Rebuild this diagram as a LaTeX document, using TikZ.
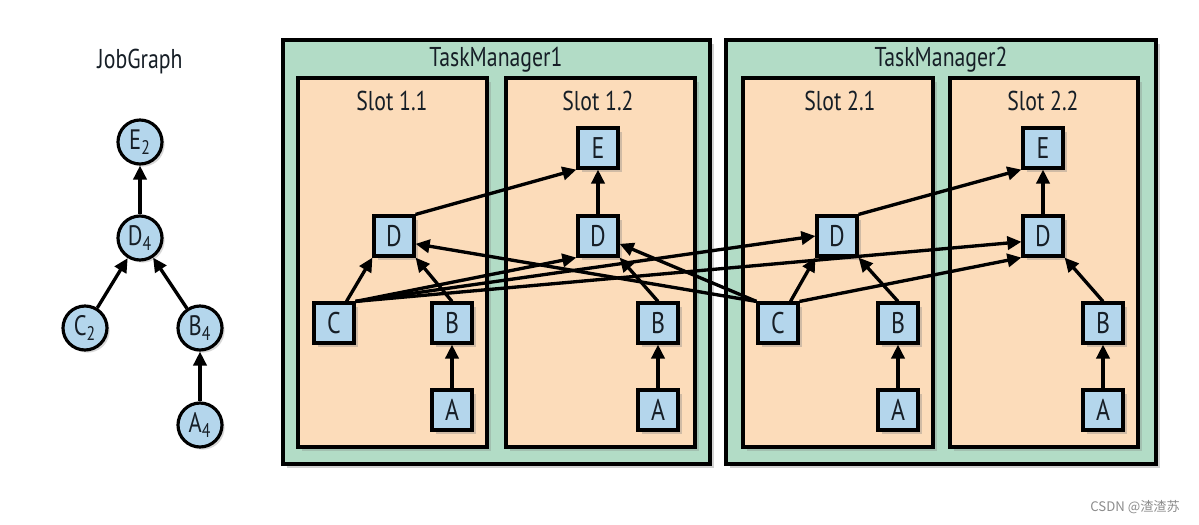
\documentclass[tikz,border=0pt]{standalone}
\usepackage{fontspec}
\setmainfont{PT Sans}[FakeStretch=0.8]
\newfontfamily\cjkfont{Noto Sans CJK SC}
\usetikzlibrary{arrows.meta,shadows}
\definecolor{tmgreen}{RGB}{178,220,198}
\definecolor{slotpeach}{RGB}{252,220,186}
\definecolor{taskblue}{RGB}{180,214,236}
\definecolor{inkcol}{RGB}{22,30,38}
\begin{document}
\begin{tikzpicture}[x=0.02cm,y=-0.02cm,
  every node/.style={text=inkcol},
  tm/.style={draw=black, line width=1.8pt, fill=tmgreen, drop shadow={shadow xshift=2.5pt, shadow yshift=-2.5pt, opacity=0.35}},
  slot/.style={draw=black, line width=1.8pt, fill=slotpeach, drop shadow={shadow xshift=2pt, shadow yshift=-2pt, opacity=0.3}},
  task/.style={draw=black, line width=1.8pt, fill=taskblue, minimum size=0.8cm, inner sep=0pt, font=\fontsize{17}{17}\selectfont, drop shadow={shadow xshift=2pt, shadow yshift=-2pt, opacity=0.35}},
  job/.style={circle, draw=black, line width=1.8pt, fill=taskblue, minimum size=0.88cm, inner sep=0pt, font=\fontsize{16}{16}\selectfont, drop shadow={shadow xshift=1.5pt, shadow yshift=-1.5pt, opacity=0.3}},
  flow/.style={line width=1.9pt, -{Triangle[length=8pt,width=7.5pt]}},
  title/.style={font=\fontsize{15.5}{15.5}\selectfont}]
\useasboundingbox[fill=white] (0,0) rectangle (1199,524);

% job graph
\node[title] (jobtitle) at (140,62) {JobGraph};
\node[job] (jE) at (140,142) {E\textsubscript{2}};
\node[job] (jD) at (140,238) {D\textsubscript{4}};
\node[job] (jC) at (85,328) {C\textsubscript{2}};
\node[job] (jB) at (200,328) {B\textsubscript{4}};
\node[job] (jA) at (200,425) {A\textsubscript{4}};
\draw[flow] (jD) -- (jE);
\draw[flow] (jC) -- (jD);
\draw[flow] (jB) -- (jD);
\draw[flow] (jA) -- (jB);

% task managers and slots
\draw[tm] (283,40) rectangle (710,464);
\draw[tm] (726,40) rectangle (1156,464);
\node[title] (tm1) at (496,60) {TaskManager1};
\node[title] (tm2) at (941,60) {TaskManager2};
\draw[slot] (298,78) rectangle (487,447);
\draw[slot] (506,78) rectangle (695,447);
\draw[slot] (743,78) rectangle (933,447);
\draw[slot] (950,78) rectangle (1138,447);
\node[title] (s11) at (392,101) {Slot 1.1};
\node[title] (s12) at (598,101) {Slot 1.2};
\node[title] (s21) at (840,101) {Slot 2.1};
\node[title] (s22) at (1043,101) {Slot 2.2};

% tasks
\node[task] (d11) at (394,236) {D};
\node[task] (c11) at (334,323) {C};
\node[task] (b11) at (452,323) {B};
\node[task] (a11) at (452,410) {A};
\node[task] (e12) at (598,148) {E};
\node[task] (d12) at (598,236) {D};
\node[task] (b12) at (658,323) {B};
\node[task] (a12) at (658,410) {A};
\node[task] (d21) at (837,236) {D};
\node[task] (c21) at (778,323) {C};
\node[task] (b21) at (898,323) {B};
\node[task] (a21) at (898,410) {A};
\node[task] (e22) at (1043,148) {E};
\node[task] (d22) at (1043,236) {D};
\node[task] (b22) at (1103,323) {B};
\node[task] (a22) at (1103,410) {A};

% edges
\foreach \s in {11,12,21,22} \draw[flow] (a\s) -- (b\s);
\draw[flow] (b11.north) -- (d11.south east);
\draw[flow] (b12.north) -- (d12.south east);
\draw[flow] (b21.north) -- (d21.south east);
\draw[flow] (b22.north) -- (d22.south east);
\draw[flow] (d12) -- (e12);
\draw[flow] (d22) -- (e22);
\draw[flow] (d11.north east) -- (e12.south west);
\draw[flow] (d21.north east) -- (e22.south west);
\draw[flow] (c11.60) -- (d11.south west);
\draw[flow] (c11.north east) -- (d12.south west);
\draw[flow] (c11.north east) -- (d21.west);
\draw[flow] (c11.north east) -- (d22.195);
\draw[flow] (c21.60) -- (d21.south west);
\draw[flow] (c21.north east) -- (d22.south west);
\draw[flow] (c21.north west) -- (d11.-20);
\draw[flow] (c21.north west) -- (d12.-20);

% watermark
\node[text=black!45, font=\cjkfont\fontsize{7.5}{7.5}\selectfont, anchor=east] (mark) at (1186,507) {CSDN @渣渣苏};
\end{tikzpicture}
\end{document}
